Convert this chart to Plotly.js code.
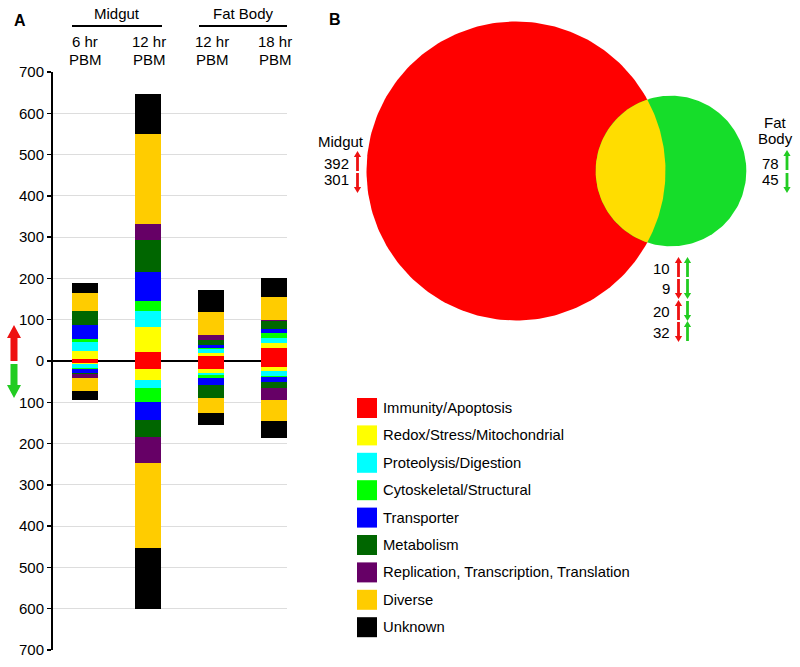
<!DOCTYPE html>
<html>
<head>
<meta charset="utf-8">
<script src="https://cdn.plot.ly/plotly-3.0.1.min.js"></script>
<style>html,body{margin:0;padding:0;background:#fff;}#chart{width:800px;height:667px;}</style>
</head>
<body>
<div id="chart"></div>
<script>
// ---------- DATA ----------
const categories = ['Immunity/Apoptosis','Redox/Stress/Mitochondrial','Proteolysis/Digestion','Cytoskeletal/Structural','Transporter','Metabolism','Replication, Transcription, Translation','Diverse','Unknown'];
const catColors = ['#FF0000','#FFFF00','#00FFFF','#00FF00','#0000FF','#006600','#660066','#FFCC00','#000000'];
const tissues = ['Midgut','Fat Body'];
const timeLabels = ['6 hr','12 hr','12 hr','18 hr'];
const timeSuffix = 'PBM';
// up-regulated counts per category (order: MG 6h, MG 12h, FB 12h, FB 18h)
const upCounts = [
  [5, 23, 13, 32],
  [20, 59, 6, 11],
  [20, 39, 10, 12],
  [9, 24, 2, 12],
  [34, 70, 7, 10],
  [32, 78, 13, 19],
  [0, 40, 13, 4],
  [45, 216, 55, 54],
  [25, 97, 53, 47]
];
// down-regulated counts per category
const downCounts = [
  [5, 19, 20, 14],
  [3, 27, 8, 9],
  [9, 19, 7, 14],
  [3, 35, 5, 2],
  [9, 43, 18, 13],
  [3, 42, 32, 13],
  [9, 61, 0, 30],
  [32, 206, 35, 50],
  [21, 148, 30, 42]
];
const yTickVals = [-700,-600,-500,-400,-300,-200,-100,0,100,200,300,400,500,600,700];
const yTickText = ['700','600','500','400','300','200','100','0','100','200','300','400','500','600','700'];
// Venn counts
const midgutUp = 392, midgutDown = 301;
const fatBodyUp = 78, fatBodyDown = 45;
const sharedCounts = [10, 9, 20, 32];
const sharedMidgutDir = ['up','down','up','down'];
const sharedFatBodyDir = ['up','down','down','up'];

// ---------- helpers ----------
const W = 800, H = 667;
const px = x => x / W;
const py = y => 1 - y / H;
const FONT = 'Arial, "Liberation Sans", sans-serif';
const RED = '#EE1111', GRN = '#22CC22';

function arrowPath(x, yTail, yTip, sw, hw, hl) {
  const dir = yTip < yTail ? -1 : 1; // -1 up
  const yb = yTip - dir * hl;
  const pts = [[x - sw, yTail],[x - sw, yb],[x - hw, yb],[x, yTip],[x + hw, yb],[x + sw, yb],[x + sw, yTail]];
  return 'M' + pts.map(p => px(p[0]).toFixed(5) + ',' + py(p[1]).toFixed(5)).join(' L') + ' Z';
}

const traces = [];
const xs = [0, 1, 2, 3];
categories.forEach((c, i) => {
  traces.push({type:'bar', x: xs, y: upCounts[i], name: c, marker:{color: catColors[i], line:{width:0}}, width: 0.41, xaxis:'x', yaxis:'y', showlegend:false, hoverinfo:'skip'});
  traces.push({type:'bar', x: xs, y: downCounts[i].map(v => -v), name: c, marker:{color: catColors[i], line:{width:0}}, width: 0.41, xaxis:'x', yaxis:'y', showlegend:false, hoverinfo:'skip'});
});

// Venn geometry (pixel coordinates on x2/y2, radius ~ sqrt(total genes))
const mgTotal = midgutUp + midgutDown + sharedCounts.reduce((a,b)=>a+b,0);
const fbTotal = fatBodyUp + fatBodyDown + sharedCounts.reduce((a,b)=>a+b,0);
const kR = 149.5 / Math.sqrt(mgTotal);
const R1 = kR * Math.sqrt(mgTotal), R2 = kR * Math.sqrt(fbTotal);
const c1 = [516, 171], c2 = [671, 171];
const N = 240;
function circle(c, r) {
  const X = [], Y = [];
  for (let k = 0; k <= N; k++) { const t = 2*Math.PI*k/N; X.push(c[0] + r*Math.cos(t)); Y.push(c[1] + r*Math.sin(t)); }
  return {X, Y};
}
const d = c2[0] - c1[0];
const a = (R1*R1 - R2*R2 + d*d) / (2*d);
const h = Math.sqrt(R1*R1 - a*a);
const th1 = Math.atan2(h, a), th2 = Math.atan2(h, d - a);
const lx = [], ly = [];
for (let k = 0; k <= 60; k++) { const t = -th1 + 2*th1*k/60; lx.push(c1[0] + R1*Math.cos(t)); ly.push(c1[1] + R1*Math.sin(t)); }
for (let k = 0; k <= 60; k++) { const t = Math.PI - th2 + 2*th2*k/60; lx.push(c2[0] + R2*Math.cos(t)); ly.push(c2[1] + R2*Math.sin(t)); }
const circ1 = circle(c1, R1), circ2 = circle(c2, R2);
traces.push({type:'scatter', mode:'lines', x: circ1.X, y: circ1.Y, fill:'toself', fillcolor:'#FF0000', line:{width:0, color:'#FF0000'}, xaxis:'x2', yaxis:'y2', showlegend:false, hoverinfo:'skip', name:'Midgut'});
traces.push({type:'scatter', mode:'lines', x: circ2.X, y: circ2.Y, fill:'toself', fillcolor:'#16DD2A', line:{width:0, color:'#16DD2A'}, xaxis:'x2', yaxis:'y2', showlegend:false, hoverinfo:'skip', name:'Fat Body'});
traces.push({type:'scatter', mode:'lines', x: lx, y: ly, fill:'toself', fillcolor:'#FFDD00', line:{width:0, color:'#FFDD00'}, xaxis:'x2', yaxis:'y2', showlegend:false, hoverinfo:'skip', name:'Shared'});

const annotations = [];
const shapes = [];
function txt(x, y, text, opts) {
  annotations.push(Object.assign({xref:'paper', yref:'paper', x: px(x), y: py(y), text: text, showarrow:false, xanchor:'center', yanchor:'middle', font:{family: FONT, size: 15, color:'#000'}}, opts || {}));
}
// Panel letters
txt(20, 20, '<b>A</b>', {font:{family: FONT, size: 16, color:'#000'}});
txt(335, 19, '<b>B</b>', {font:{family: FONT, size: 16, color:'#000'}});
// Headers
const barPx = [85, 149, 212, 275];
txt(117, 14, tissues[0]);
txt(243, 14, tissues[1]);
shapes.push({type:'line', xref:'paper', yref:'paper', x0: px(72), x1: px(162), y0: py(26), y1: py(26), line:{color:'#000', width:2}});
shapes.push({type:'line', xref:'paper', yref:'paper', x0: px(199), x1: px(287), y0: py(26), y1: py(26), line:{color:'#000', width:2}});
timeLabels.forEach((t, i) => { txt(barPx[i], 42, t); txt(barPx[i], 59, timeSuffix); });
// Panel A up/down arrows
shapes.push({type:'path', xref:'paper', yref:'paper', path: arrowPath(14, 361, 325, 3.5, 7, 13), fillcolor: RED, line:{width:0}});
shapes.push({type:'path', xref:'paper', yref:'paper', path: arrowPath(14, 364, 398, 3.5, 7, 13), fillcolor: GRN, line:{width:0}});

// Venn labels
txt(341, 141, 'Midgut');
txt(351, 163, String(midgutUp), {xanchor:'right'});
txt(351, 180, String(midgutDown), {xanchor:'right'});
shapes.push({type:'path', xref:'paper', yref:'paper', path: arrowPath(357.5, 171, 151, 1.4, 3.6, 6), fillcolor: RED, line:{width:0}});
shapes.push({type:'path', xref:'paper', yref:'paper', path: arrowPath(357.5, 173, 193, 1.4, 3.6, 6), fillcolor: RED, line:{width:0}});
txt(775, 122, 'Fat');
txt(775, 139, 'Body');
txt(781, 163, String(fatBodyUp), {xanchor:'right'});
txt(781, 180, String(fatBodyDown), {xanchor:'right'});
shapes.push({type:'path', xref:'paper', yref:'paper', path: arrowPath(787, 170, 150, 1.4, 3.6, 6), fillcolor: GRN, line:{width:0}});
shapes.push({type:'path', xref:'paper', yref:'paper', path: arrowPath(787, 173, 193, 1.4, 3.6, 6), fillcolor: GRN, line:{width:0}});
const sharedY = [268, 289, 311, 332];
sharedCounts.forEach((v, i) => {
  const yc = sharedY[i];
  txt(672, yc, String(v), {xanchor:'right'});
  const mUp = sharedMidgutDir[i] === 'up', fUp = sharedFatBodyDir[i] === 'up';
  shapes.push({type:'path', xref:'paper', yref:'paper', path: mUp ? arrowPath(678.5, yc + 9, yc - 11, 1.4, 3.6, 6) : arrowPath(678.5, yc - 10, yc + 10, 1.4, 3.6, 6), fillcolor: RED, line:{width:0}});
  shapes.push({type:'path', xref:'paper', yref:'paper', path: fUp ? arrowPath(687.5, yc + 9, yc - 11, 1.4, 3.6, 6) : arrowPath(687.5, yc - 10, yc + 10, 1.4, 3.6, 6), fillcolor: GRN, line:{width:0}});
});

// Category legend (drawn)
categories.forEach((c, i) => {
  const yc = 408 + i * 27.4;
  shapes.push({type:'rect', xref:'paper', yref:'paper', x0: px(357), x1: px(377), y0: py(yc - 10), y1: py(yc + 10), fillcolor: catColors[i], line:{width:0}});
  txt(381, yc, c, {xanchor:'left', font:{family: FONT, size: 14.8, color:'#000'}});
});

const layout = {
  width: W, height: H,
  margin: {l:0, r:0, t:0, b:0},
  paper_bgcolor: '#fff', plot_bgcolor: 'rgba(0,0,0,0)',
  barmode: 'relative', bargap: 0,
  showlegend: false,
  xaxis: {domain: [px(53), px(287)], range: [-0.5, 3.2], showticklabels:false, showgrid:false, zeroline:false, showline:false, ticks:'', fixedrange:true},
  yaxis: {domain: [py(650), py(72)], range: [-700, 700], tickvals: yTickVals, ticktext: yTickText,
          showline:true, linecolor:'#000', linewidth:2, ticks:'outside', ticklen:4, tickwidth:1.5, tickcolor:'#000',
          showgrid:true, gridcolor:'#DDDDDD', gridwidth:1, zeroline:true, zerolinecolor:'#000', zerolinewidth:2,
          tickfont:{family: FONT, size: 15, color:'#000'}, fixedrange:true},
  xaxis2: {domain: [0.4, 1], range: [320, 800], visible:false, fixedrange:true},
  yaxis2: {domain: [py(400), 1], range: [400, 0], visible:false, fixedrange:true, anchor:'x2'},
  annotations: annotations,
  shapes: shapes,
  font: {family: FONT, color:'#000'}
};
layout.xaxis2.anchor = 'y2';

Plotly.newPlot('chart', traces, layout, {displayModeBar:false, staticPlot:true});
</script>
</body>
</html>
